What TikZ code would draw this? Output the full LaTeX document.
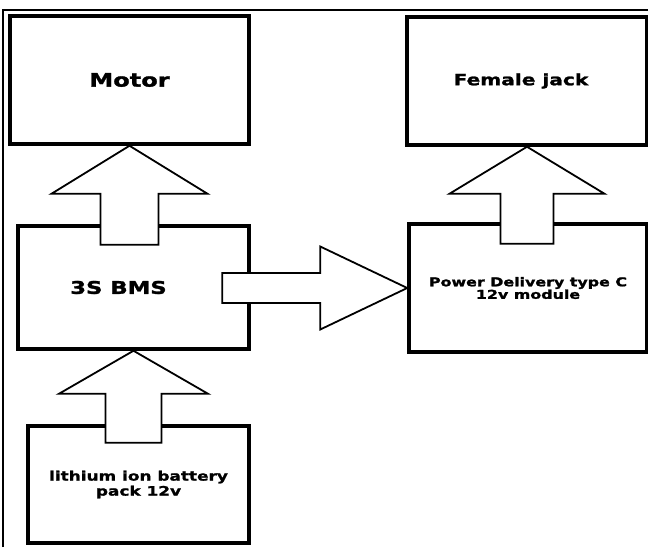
\documentclass[tikz,border=0pt]{standalone}
\usepackage{fontspec}
\newfontfamily\boxfont{DejaVu Sans}[FakeStretch=1.3,FakeBold=1.5]
\usepackage{tikz}
\usetikzlibrary{arrows,positioning,calc}

\tikzset{
  box/.style={draw, line width=3.5pt, fill=white, align=center, inner sep=0pt},
  boxtext/.style n args={2}{font=\boxfont\fontsize{#1}{#2}\selectfont\bfseries},
  blockarrow/.style={draw, fill=white, line width=1.8pt, line join=miter},
}

\begin{document}
\begin{tikzpicture}[x=1pt, y=-1pt]
            \useasboundingbox (0,0) rectangle (648,547);
            \draw [line width=1.3pt] (3,547)--(3,10)--(648,10);

            \node [box, boxtext={18.5}{21}, minimum width=239pt, minimum height=128pt] (motor) at (129.5,80) {Motor};
            \node [box, boxtext={15.5}{18}, minimum width=240pt, minimum height=128pt] (jack) at (527,81) {Female jack\hspace*{12pt}};
            \node [box, boxtext={17.5}{20}, minimum width=231pt, minimum height=123pt] (bms) at (133.5,287.5) {3S BMS\hspace*{30pt}};
            \node [box, boxtext={12.2}{12.5}, minimum width=238pt, minimum height=128pt] (pd) at (528,288) {Power Delivery type C\\12v module};
            \node [box, boxtext={13}{15}, minimum width=221pt, minimum height=117pt] (battery) at (138.5,484.5) {lithium ion battery\\pack 12v};

            \draw [blockarrow] (motor.south) -- ++(78,48) -- ++(-49,0) -- ++(0,51) -- ++(-58,0) -- ++(0,-51) -- ++(-49,0) -- cycle;
            \draw [blockarrow] (jack.south) -- ++(77.5,47) -- ++(-51,0) -- ++(0,50) -- ++(-53,0) -- ++(0,-50) -- ++(-51,0) -- cycle;
            \draw [blockarrow] (bms.south) -- ++(74.5,43) -- ++(-46.5,0) -- ++(0,49) -- ++(-56,0) -- ++(0,-49) -- ++(-46.5,0) -- cycle;
            \draw [blockarrow] (pd.west) -- ++(-87,-41.5) -- ++(0,26.5) -- ++(-98,0) -- ++(0,30) -- ++(98,0) -- ++(0,26.5) -- cycle;

    \end{tikzpicture}
\end{document}
